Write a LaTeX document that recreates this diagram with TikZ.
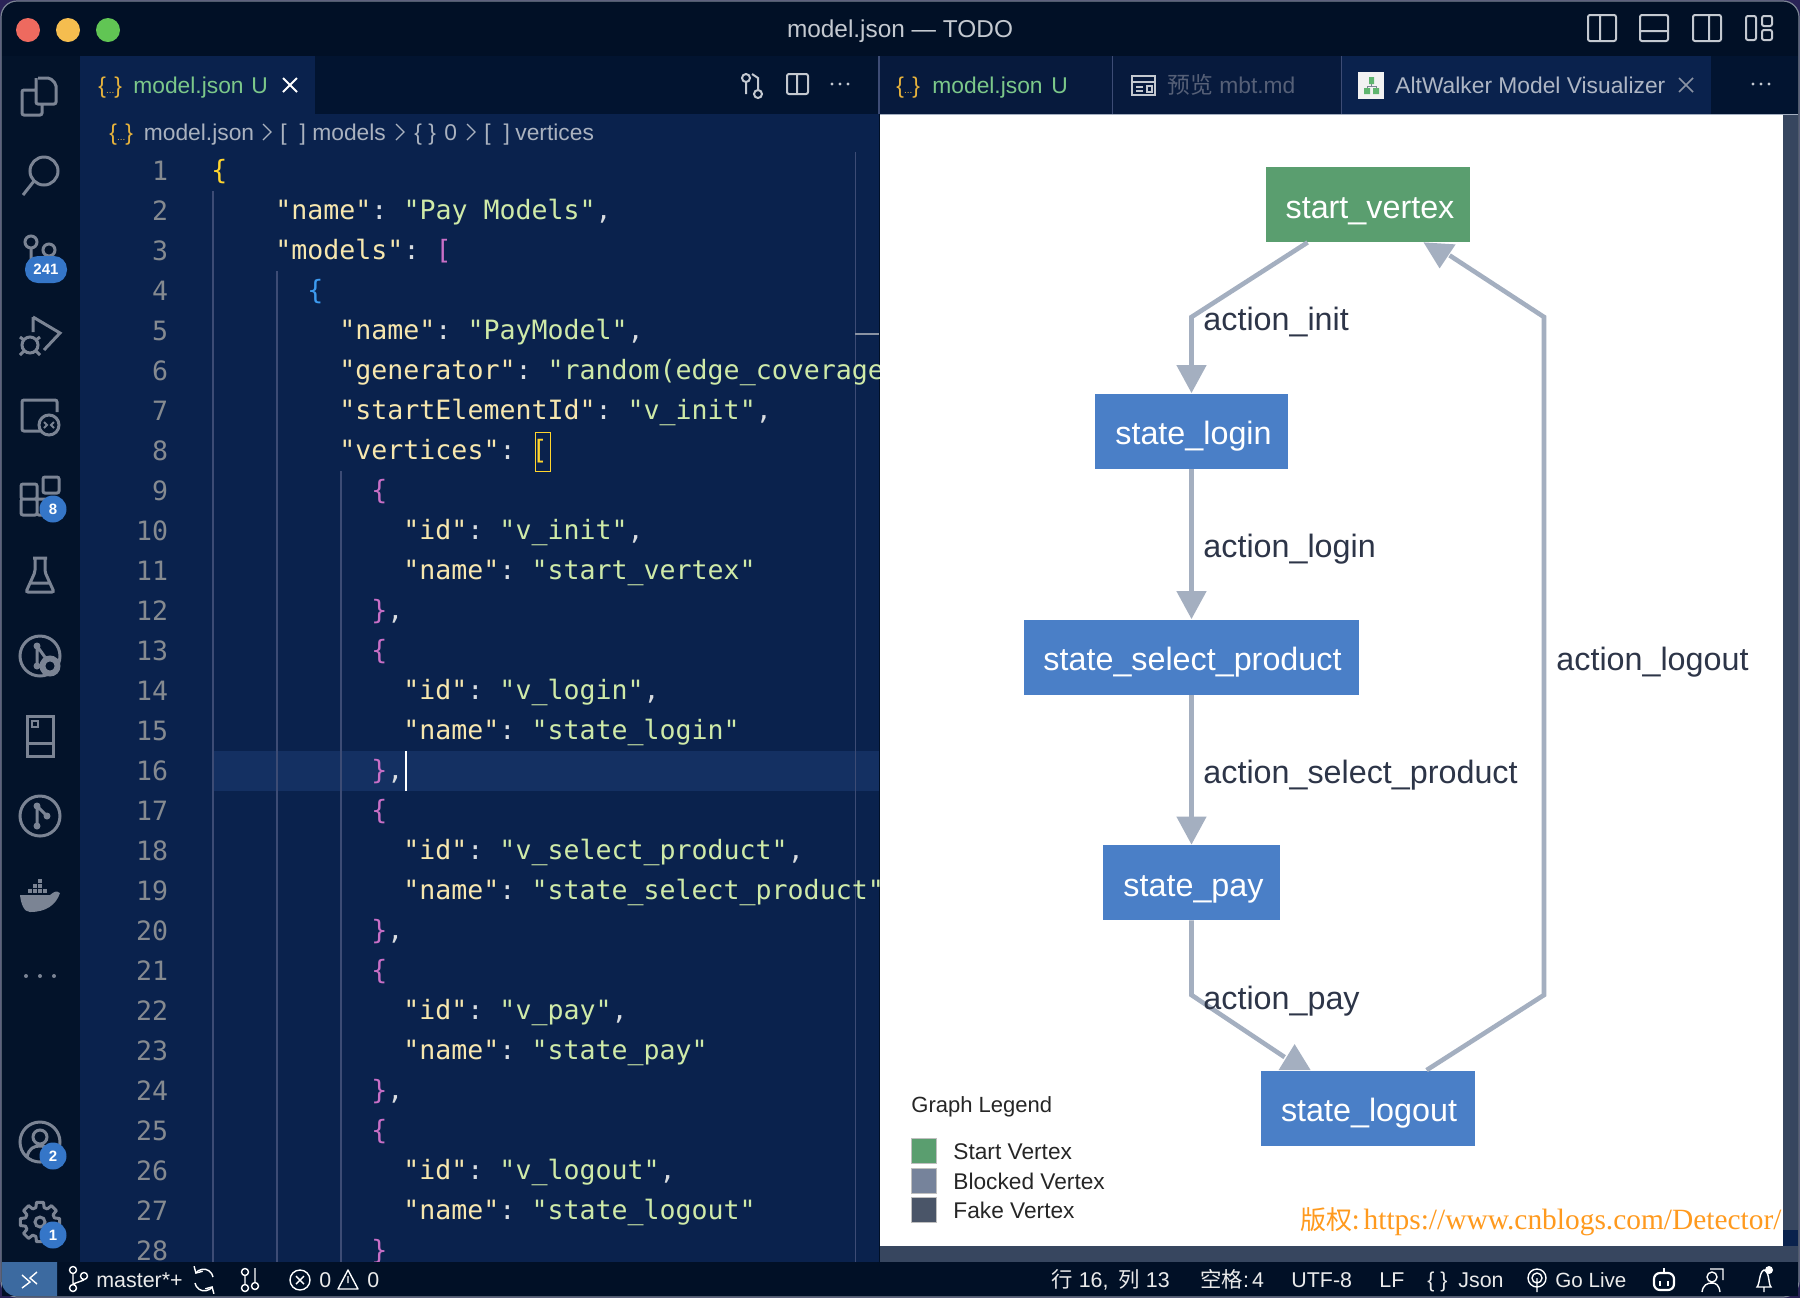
\documentclass[tikz,border=0pt]{standalone}
\usepackage{fontspec}
\setmainfont{Liberation Sans}
\setmonofont{DejaVu Sans Mono}
\newfontfamily\cjk{Noto Sans CJK SC}
\newfontfamily\serifmark{Liberation Serif}
\usetikzlibrary{arrows.meta}
\definecolor{outerbg}{HTML}{2A2357}
\definecolor{titlebg}{HTML}{011026}
\definecolor{activitybg}{HTML}{03132A}
\definecolor{tabbarbg}{HTML}{021430}
\definecolor{tabidle}{HTML}{071A3D}
\definecolor{editorbg}{HTML}{0A224D}
\definecolor{linehl}{HTML}{143062}
\definecolor{guidecol}{HTML}{3D4C75}
\definecolor{iconcol}{HTML}{7B8494}
\definecolor{lightcol}{HTML}{C4C9D0}
\definecolor{numcol}{HTML}{858A90}
\definecolor{codekey}{HTML}{F7E7AE}
\definecolor{codestr}{HTML}{CFEAA8}
\definecolor{codepun}{HTML}{D8DCE0}
\definecolor{bracketyellow}{HTML}{FFD52E}
\definecolor{bracketpink}{HTML}{C96FC6}
\definecolor{bracketblue}{HTML}{3D9BF0}
\definecolor{tabgreen}{HTML}{7CC88A}
\definecolor{crumbcol}{HTML}{AAB2BF}
\definecolor{jsonicon}{HTML}{E8B33C}
\definecolor{badgeblue}{HTML}{3576C8}
\definecolor{scrollcol}{HTML}{37465F}
\definecolor{startgreen}{HTML}{5A9E6F}
\definecolor{statusblue}{HTML}{4A7FC7}
\definecolor{blockedgray}{HTML}{76839B}
\definecolor{fakegray}{HTML}{4A5568}
\definecolor{edgecol}{HTML}{A4AFC0}
\definecolor{labelcol}{HTML}{2D3548}
\definecolor{markorange}{HTML}{FF9A1E}
\definecolor{remoteblue}{HTML}{3C6AA0}
\definecolor{lightred}{HTML}{EE6A5F}
\definecolor{lightamber}{HTML}{F5BD4F}
\definecolor{lightgreen}{HTML}{61C554}
\definecolor{previewtext}{HTML}{566077}
\definecolor{vizicon}{HTML}{5FB56F}
\definecolor{viztext}{HTML}{AEB6C4}
\definecolor{closecol}{HTML}{8A93A3}
\tikzset{
    uitext/.style={inner sep=0pt, anchor=base west, font=\fontsize{11.4}{14}\selectfont},
    statustext/.style={inner sep=0pt, anchor=base west, text=white!92!black, font=\fontsize{10.7}{13}\selectfont},
    codetext/.style={inner sep=0pt, anchor=base west, font=\ttfamily\fontsize{13.3}{16}\selectfont},
    numtext/.style={inner sep=0pt, anchor=base east, text=numcol, font=\ttfamily\fontsize{13.3}{16}\selectfont},
    vertexbox/.style={inner sep=0pt, text=white, text height=16pt, text depth=2.5pt, minimum height=37.5pt, font=\fontsize{16.15}{19}\selectfont},
    edgelabel/.style={inner sep=0pt, anchor=base west, text=labelcol, font=\fontsize{16.15}{19}\selectfont},
    edgeline/.style={draw=edgecol, line width=2.3pt},
    edgearrow/.style={edgeline, -{Triangle[length=14pt,width=14.5pt]}},
    legendtext/.style={inner sep=0pt, anchor=base west, text=black!85, font=\fontsize{11.35}{13}\selectfont},
    swatch/.style={draw=white!75!black, line width=0.5pt},
    icon/.style={draw=iconcol, line width=1.5pt},
    thinicon/.style={draw=lightcol, line width=1pt},
    badge/.style={circle, fill=badgeblue, inner sep=0pt, minimum size=13.5pt, text=white, font=\bfseries\fontsize{7.5}{9}\selectfont},
}
\newcommand{\jkey}[1]{\textcolor{codekey}{"#1"}}
\newcommand{\jstr}[1]{\textcolor{codestr}{"#1"}}
\newcommand{\jcolon}{\textcolor{codepun}{: }}
\newcommand{\jcomma}{\textcolor{codepun}{,}}
\newcommand{\codeln}[3]{\node[codetext] (code#1) at ({211+#2*16},{139.5+#1*40}) {#3};}
\newcommand{\jsonmark}[2]{\node[uitext, text=jsonicon] (#1) at #2 {\{\fontsize{5}{6}\selectfont...\fontsize{11.4}{14}\selectfont\}};}
\begin{document}
\begin{tikzpicture}[x=0.5pt,y=-0.5pt]
    \useasboundingbox (0,0) rectangle (1800,1298);
    \fill[outerbg] (0,0) rectangle (1800,1298);
    \fill[titlebg, draw=iconcol, line width=0.6pt, rounded corners=8pt] (1,1) rectangle (1799,1297);
    \fill[activitybg] (2,56) rectangle (80,1262);
    \fill[tabbarbg] (80,56) rectangle (1798,114);
    \fill[editorbg] (80,114) rectangle (879,1262);
    \fill[editorbg] (80,56) rectangle (315,114);
    \fill[tabidle] (880,56) rectangle (1341,114);
    \fill[editorbg] (1341,56) rectangle (1711,114);
    \fill[white] (880,114) rectangle (1783,1246);
    \fill[scrollcol] (880,1246) rectangle (1798,1262);
    \fill[scrollcol] (1783,114) rectangle (1798,1230);
    \fill[editorbg] (1783,1230) rectangle (1798,1246);
    \draw[guidecol, line width=0.6pt] (879,56) -- (879,114);
    \draw[guidecol, line width=0.4pt] (1112,56) -- (1112,114);
    \draw[guidecol, line width=0.4pt] (1341,56) -- (1341,114);
    \draw[edgecol, line width=0.5pt] (880,114) -- (1798,114);

    \fill[lightred] (28,30) circle[radius=12];
    \fill[lightamber] (68,30) circle[radius=12];
    \fill[lightgreen] (108,30) circle[radius=12];
    \node[inner sep=0pt, text=lightcol, font=\fontsize{12.2}{15}\selectfont] (wintitle) at (900,31.5) {model.json — TODO};
    \draw[thinicon, rounded corners=1pt] (1588,15) rectangle (1616,41) (1600,15) -- (1600,41);
    \draw[thinicon, rounded corners=1pt] (1640,15) rectangle (1668,41) (1640,31) -- (1668,31);
    \draw[thinicon, rounded corners=1pt] (1693,15) rectangle (1721,41) (1709,15) -- (1709,41);
    \draw[thinicon, rounded corners=1pt] (1746,16) rectangle (1756,40) (1762,16) rectangle (1772,26) (1762,30) rectangle (1772,40);

    \jsonmark{tabicona}{(98,93)}
    \node[uitext, text=tabgreen] (tabfilea) at (133,93) {model.json};
    \node[uitext, text=tabgreen] (tabua) at (251,93) {U};
    \draw[white, line width=0.9pt] (283,78) -- (297,92) (297,78) -- (283,92);
    \draw[thinicon] (746,78) circle[radius=4] (758,94) circle[radius=4] (746,82) -- (746,94) (758,90) -- (758,78) -- (752,74);
    \draw[thinicon, rounded corners=1pt] (787,74) rectangle (808,94) (797,74) -- (797,94);
    \foreach \dotx in {832,840,848} \fill[lightcol] (\dotx,84) circle[radius=1.6];
    \jsonmark{tabiconb}{(896,93)}
    \node[uitext, text=tabgreen] (tabfileb) at (932,93) {model.json};
    \node[uitext, text=tabgreen] (tabub) at (1051,93) {U};
    \draw[thinicon] (1132,76) rectangle (1155,95) (1132,82) -- (1155,82) (1136,87) -- (1143,87) (1136,91) -- (1143,91) (1147,86) rectangle (1152,92);
    \node[uitext, text=previewtext] (tabpreview) at (1167,93) {{\cjk 预览} mbt.md};
    \fill[white!95!black] (1358,72) rectangle (1384,99);
    \draw[iconcol, line width=0.4pt] (1371.5,84) -- (1371.5,86) (1367,88) -- (1367,86) -- (1376,86) -- (1376,88);
    \fill[vizicon] (1369,77) rectangle (1374,84) (1364,88) rectangle (1370,94) (1373,88) rectangle (1379,94);
    \node[uitext, text=viztext] (tabviz) at (1395,93) {AltWalker Model Visualizer};
    \draw[closecol, line width=0.8pt] (1679,78) -- (1693,92) (1693,78) -- (1679,92);
    \foreach \dotx in {1753,1761,1769} \fill[lightcol] (\dotx,84) circle[radius=1.6];

    \jsonmark{crumbicon}{(109,140)}
    \node[uitext, text=crumbcol] (crumbfile) at (143.5,140) {model.json};
    \draw[crumbcol, line width=0.6pt] (263,124) -- (271,132) -- (263,140) (396,124) -- (404,132) -- (396,140) (467,124) -- (475,132) -- (467,140);
    \node[uitext, text=crumbcol] (crumbbra) at (280,140) {[\hspace{6.5pt}]};
    \node[uitext, text=crumbcol] (crumbmodels) at (312,140) {models};
    \node[uitext, text=crumbcol] (crumbobj) at (414,140) {\{ \}};
    \node[uitext, text=crumbcol] (crumbzero) at (444,140) {0};
    \node[uitext, text=crumbcol] (crumbbrb) at (484,140) {[\hspace{6.5pt}]};
    \node[uitext, text=crumbcol] (crumbvert) at (515,140) {vertices};

    \fill[linehl] (213,751) rectangle (879,791);
    \draw[guidecol, line width=0.7pt] (213,191) -- (213,1262);
    \draw[guidecol, line width=0.7pt] (277,271) -- (277,1262);
    \draw[guidecol, line width=0.7pt] (341,471) -- (341,1262);
    \draw[guidecol, line width=0.4pt] (855,152) -- (855,1262);
    \draw[closecol, line width=1pt] (855,334) -- (879,334);
    \draw[bracketyellow, line width=0.5pt] (535,432) rectangle (550,471);
    \draw[white, line width=1pt] (406,751) -- (406,791);

    \foreach \n in {1,...,28} {
        \node[numtext] (num\n) at (168.5,{140+\n*40}) {\n};
    }
    \begin{scope}
        \clip (80,114) rectangle (879,1262);
        \codeln{1}{0}{\textcolor{bracketyellow}{\{}}
        \codeln{2}{4}{\jkey{name}\jcolon\jstr{Pay Models}\jcomma}
        \codeln{3}{4}{\jkey{models}\jcolon\textcolor{bracketpink}{[}}
        \codeln{4}{6}{\textcolor{bracketblue}{\{}}
        \codeln{5}{8}{\jkey{name}\jcolon\jstr{PayModel}\jcomma}
        \codeln{6}{8}{\jkey{generator}\jcolon\textcolor{codestr}{"random(edge\_coverage}}
        \codeln{7}{8}{\jkey{startElementId}\jcolon\jstr{v\_init}\jcomma}
        \codeln{8}{8}{\jkey{vertices}\jcolon\textcolor{bracketyellow}{[}}
        \codeln{9}{10}{\textcolor{bracketpink}{\{}}
        \codeln{10}{12}{\jkey{id}\jcolon\jstr{v\_init}\jcomma}
        \codeln{11}{12}{\jkey{name}\jcolon\jstr{start\_vertex}}
        \codeln{12}{10}{\textcolor{bracketpink}{\}}\jcomma}
        \codeln{13}{10}{\textcolor{bracketpink}{\{}}
        \codeln{14}{12}{\jkey{id}\jcolon\jstr{v\_login}\jcomma}
        \codeln{15}{12}{\jkey{name}\jcolon\jstr{state\_login}}
        \codeln{16}{10}{\textcolor{bracketpink}{\}}\jcomma}
        \codeln{17}{10}{\textcolor{bracketpink}{\{}}
        \codeln{18}{12}{\jkey{id}\jcolon\jstr{v\_select\_product}\jcomma}
        \codeln{19}{12}{\jkey{name}\jcolon\jstr{state\_select\_product}}
        \codeln{20}{10}{\textcolor{bracketpink}{\}}\jcomma}
        \codeln{21}{10}{\textcolor{bracketpink}{\{}}
        \codeln{22}{12}{\jkey{id}\jcolon\jstr{v\_pay}\jcomma}
        \codeln{23}{12}{\jkey{name}\jcolon\jstr{state\_pay}}
        \codeln{24}{10}{\textcolor{bracketpink}{\}}\jcomma}
        \codeln{25}{10}{\textcolor{bracketpink}{\{}}
        \codeln{26}{12}{\jkey{id}\jcolon\jstr{v\_logout}\jcomma}
        \codeln{27}{12}{\jkey{name}\jcolon\jstr{state\_logout}}
        \codeln{28}{10}{\textcolor{bracketpink}{\}}}
    \end{scope}

    \draw[icon, rounded corners=1pt] (38,78) -- (50,78) -- (56,84) -- (56,104) -- (36,104) -- (36,78) (36,90) -- (22,90) -- (22,115) -- (42,115) -- (42,104);
    \draw[icon] (44,171) circle[radius=14] (34,181) -- (23,195);
    \draw[icon] (31,242) circle[radius=6] (49,250) circle[radius=6] (31,248) -- (31,262);
    \fill[badgeblue, rounded corners=6.5pt] (25,256) rectangle (67,283);
    \node[inner sep=0pt, text=white, font=\bfseries\fontsize{7.5}{9}\selectfont] (badgescm) at (46,269.5) {241};
    \draw[icon] (33,317) -- (60,333) -- (44,350) (33,317) -- (33,332);
    \draw[icon] (30,345) circle[radius=8] (20,337) -- (24,340) (40,337) -- (36,340) (20,355) -- (24,351) (40,355) -- (36,351);
    \draw[icon, rounded corners=1pt] (38,431) -- (22,431) -- (22,400) -- (57,400) -- (57,412) (30,431) -- (40,431);
    \draw[icon] (49,425) circle[radius=10];
    \draw[icon, line width=1pt] (44,422) -- (47,425) -- (44,428) (54,422) -- (51,425) -- (54,428);
    \draw[icon, rounded corners=1pt] (21,484) rectangle (37,499) (21,499) rectangle (37,515) (37,499) rectangle (53,515) (43,477) rectangle (59,493);
    \node[badge] (badgeext) at (53,509) {8};
    \draw[icon, rounded corners=1pt] (33,558) -- (47,558) (35,558) -- (35,572) -- (26,592) -- (54,592) -- (45,572) -- (45,558) (30,583) -- (50,583);
    \draw[icon] (40,656) circle[radius=20];
    \fill[iconcol] (37,646) circle[radius=3.5] (37,666) circle[radius=3.5];
    \draw[icon] (37,646) -- (37,666) (37,646) -- (47,660);
    \fill[activitybg] (50,666) circle[radius=10];
    \draw[icon] (50,666) circle[radius=6] (50,666) circle[radius=9];
    \draw[icon] (27,716) rectangle (53,756) (27,743) -- (53,743);
    \draw[icon, line width=0.8pt] (32,721) rectangle (38,727);
    \draw[icon] (40,816) circle[radius=20] (37,806) -- (37,826) (37,806) -- (47,816);
    \fill[iconcol] (37,806) circle[radius=3.5] (47,816) circle[radius=3.5] (37,826) circle[radius=3.5];
    \fill[iconcol] (20,895) -- (50,895) .. controls (54,892) and (56,890) .. (60,893) .. controls (56,905) and (46,912) .. (30,912) .. controls (24,912) and (21,904) .. (20,895) -- cycle;
    \foreach \boxx/\boxy in {28/889,33/889,38/889,43/889,33/884,38/884,38/879} \fill[iconcol] (\boxx,\boxy) rectangle ++(4,4);
    \foreach \dotx in {26,40,54} \fill[iconcol] (\dotx,976) circle[radius=2];
    \draw[icon] (40,1142) circle[radius=20] (40,1137) circle[radius=7] (27,1157) .. controls (29,1148) and (34,1146) .. (40,1146) .. controls (46,1146) and (51,1148) .. (53,1157);
    \node[badge] (badgeacc) at (53,1156) {2};
    \begin{scope}[shift={(40,1222)}]
        \draw[icon] (0,0) circle[radius=5];
        \draw[icon, line join=round] (-10:20) \foreach \ang in {0,45,...,315} { -- ({\ang-10}:20) -- ({\ang+10}:20) -- ({\ang+16}:15) -- ({\ang+29}:15) } -- cycle;
    \end{scope}
    \node[badge] (badgegear) at (53,1235) {1};

    \node[vertexbox, fill=startgreen, minimum width=102pt] (start) at (1368,204.5) {\hspace{2pt}start\_vertex};
    \node[vertexbox, fill=statusblue, minimum width=96.5pt] (login) at (1191.5,431) {\hspace{2pt}state\_login};
    \node[vertexbox, fill=statusblue, minimum width=167.5pt] (select) at (1191.5,657) {\hspace{1pt}state\_select\_product};
    \node[vertexbox, fill=statusblue, minimum width=88.5pt] (pay) at (1191.5,882.5) {\hspace{2pt}state\_pay};
    \node[vertexbox, fill=statusblue, minimum width=107pt] (logout) at (1368,1108) {\hspace{1pt}state\_logout};
    \coordinate (initbend) at (1191.5,317);
    \coordinate (paybend) at (1191.5,995);
    \coordinate (logoutlow) at (1544,995);
    \coordinate (logouthigh) at (1544,317);
    \draw[edgearrow] ([xshift=21pt]start.south west) -- (initbend) -- (login.north);
    \draw[edgearrow] (login.south) -- (select.north);
    \draw[edgearrow] (select.south) -- (pay.north);
    \draw[edgeline] (pay.south) -- (paybend) -- ([xshift=12pt,yshift=6.5pt]logout.north west);
    \fill[edgecol] ([xshift=9pt]logout.north west) -- ([xshift=17pt,yshift=13pt]logout.north west) -- ([xshift=25pt]logout.north west) -- cycle;
    \draw[edgeline] ([xshift=83pt]logout.north west) -- (logoutlow) -- (logouthigh) -- ([xshift=92pt,yshift=-6.5pt]start.south west);
    \fill[edgecol] ([xshift=79pt]start.south west) -- ([xshift=87pt,yshift=-13pt]start.south west) -- ([xshift=95pt,yshift=-1pt]start.south west) -- cycle;
    \node[edgelabel] (lblinit) at (1203,330) {action\_init};
    \node[edgelabel] (lbllogin) at (1203,557) {action\_login};
    \node[edgelabel] (lblselect) at (1203,783) {action\_select\_product};
    \node[edgelabel] (lblpay) at (1203,1009) {action\_pay};
    \node[edgelabel] (lbllogout) at (1556,670) {action\_logout};

    \node[legendtext, font=\fontsize{11}{13}\selectfont] (legendtitle) at (911,1112) {Graph Legend};
    \draw[swatch, fill=startgreen] (911,1138) rectangle (936,1163);
    \draw[swatch, fill=blockedgray] (911,1168) rectangle (936,1193);
    \draw[swatch, fill=fakegray] (911,1197) rectangle (936,1222);
    \node[legendtext] (legendstart) at (953,1159) {Start Vertex};
    \node[legendtext] (legendblocked) at (953,1189) {Blocked Vertex};
    \node[legendtext] (legendfake) at (953,1218) {Fake Vertex};
    \node[inner sep=0pt, anchor=base west, text=markorange, font=\fontsize{13}{16}\selectfont] (watermark) at (1300,1229) {{\cjk 版权:}\hspace{2pt}{\serifmark\fontsize{14.7}{16}\selectfont https://www.cnblogs.com/Detector/}};

    \fill[titlebg] (2,1262) rectangle (1798,1296);
    \fill[remoteblue] (2,1262) -- (57,1262) -- (57,1296) [rounded corners=7pt] -- (2,1296) [sharp corners] -- (2,1262) -- cycle;
    \draw[white, line width=0.7pt] (22,1275) -- (30,1282) -- (22,1288) (37,1272) -- (30,1278) -- (37,1284);
    \draw[white, line width=0.7pt] (73,1270) circle[radius=3.5] (84,1276) circle[radius=3.5] (73,1288) circle[radius=3.5] (73,1274) -- (73,1285) (84,1280) -- (73,1284);
    \node[statustext] (stbranch) at (96,1287) {master*+};
    \draw[white, line width=0.7pt, -{Straight Barb[length=2.5pt,width=5pt]}] (213,1277) arc (-10:-150:9.5);
    \draw[white, line width=0.7pt, -{Straight Barb[length=2.5pt,width=5pt]}] (195,1283) arc (170:30:9.5);
    \draw[white, line width=0.7pt] (245,1272) circle[radius=3.5] (255,1286) circle[radius=3.5] (245,1288) circle[radius=3.5] (245,1275) -- (245,1285) (255,1283) -- (255,1268);
    \draw[white, line width=0.7pt] (300,1280) circle[radius=10] (296,1276) -- (304,1284) (304,1276) -- (296,1284);
    \node[statustext] (sterr) at (319,1287) {0};
    \draw[white, line width=0.7pt, line join=round] (348,1270) -- (358,1289) -- (338,1289) -- cycle (348,1276) -- (348,1283);
    \node[statustext] (stwarn) at (367,1287) {0};
    \node[statustext] (stpos) at (1051,1287) {{\cjk 行} 16,\hspace{5pt}{\cjk 列} 13};
    \node[statustext] (stspace) at (1200,1287) {{\cjk 空格}:\hspace{1.5pt}4};
    \node[statustext] (stenc) at (1291,1287) {UTF-8};
    \node[statustext] (steol) at (1379,1287) {LF};
    \node[statustext] (stbrace) at (1427,1287) {\{ \}};
    \node[statustext] (stlang) at (1458,1287) {Json};
    \draw[white, line width=0.7pt] (1537,1278) circle[radius=9] (1537,1278) circle[radius=5] (1537,1278) -- (1537,1292);
    \node[statustext, font=\fontsize{10.3}{13}\selectfont] (stlive) at (1555,1287) {Go Live};
    \draw[white, line width=1.1pt, rounded corners=3pt] (1654,1273) rectangle (1674,1290);
    \draw[white, line width=1pt] (1660,1281) -- (1660,1286) (1668,1281) -- (1668,1286) (1664,1268) -- (1664,1273);
    \draw[white, line width=0.7pt] (1712,1277) circle[radius=5] (1702,1292) .. controls (1703,1285) and (1707,1283) .. (1712,1283) .. controls (1716,1283) and (1719,1285) .. (1720,1292) (1710,1269) -- (1723,1269) -- (1723,1280);
    \draw[white, line width=0.7pt] (1757,1287) .. controls (1760,1284) and (1759,1272) .. (1764,1270) .. controls (1770,1272) and (1768,1284) .. (1771,1287) -- cycle (1764,1287) -- (1764,1292);
    \fill[white] (1769,1270) circle[radius=4];
\end{tikzpicture}
\end{document}
